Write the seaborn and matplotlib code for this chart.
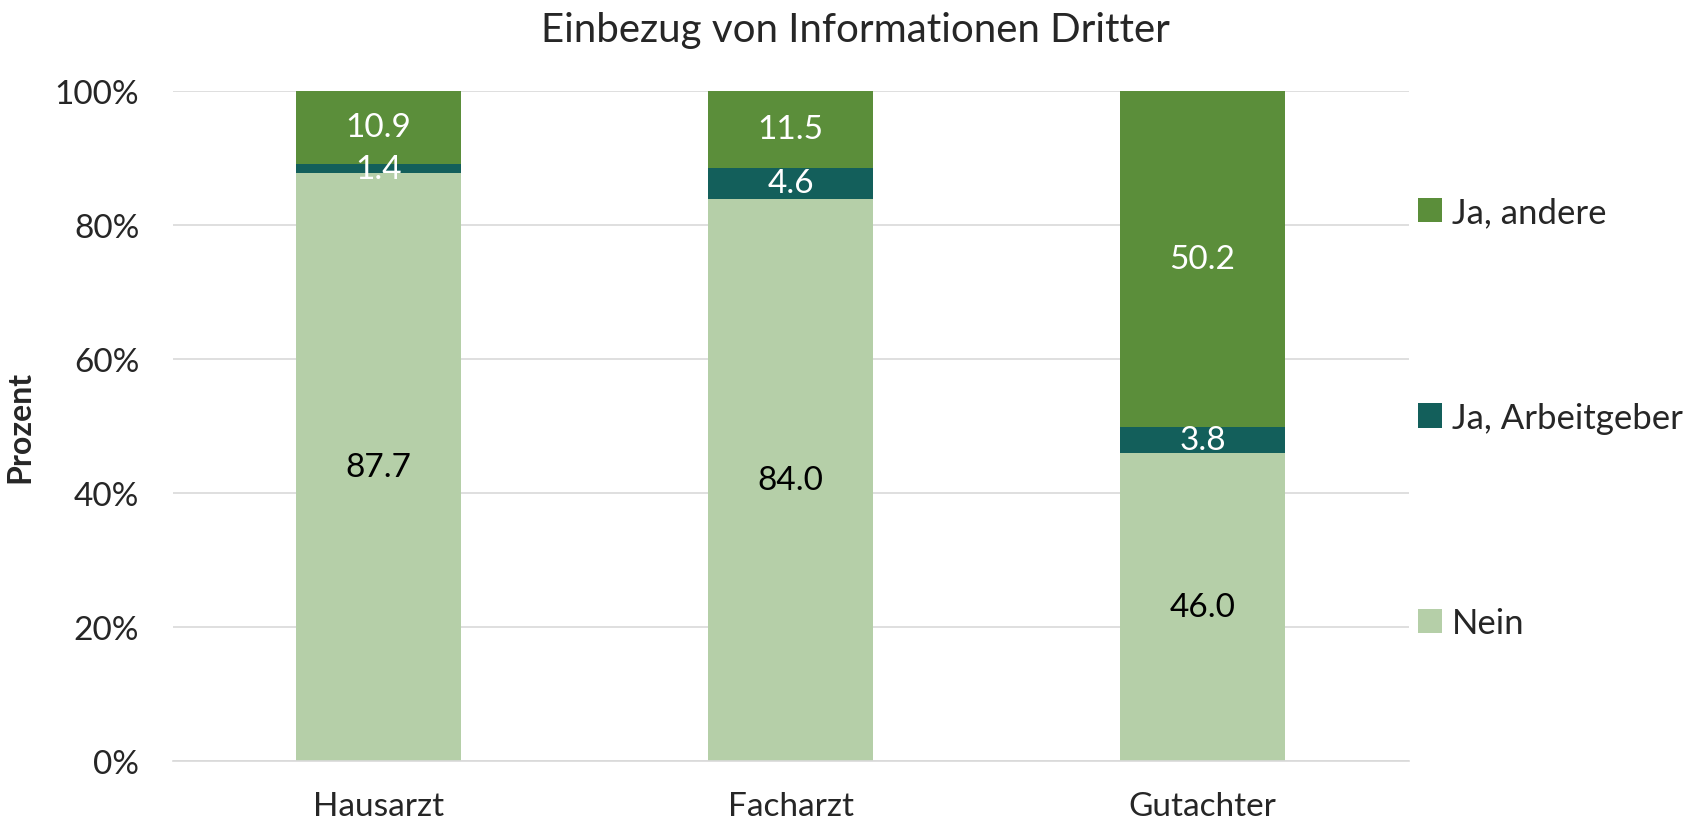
import numpy as np
import pandas as pd
import seaborn as sns
import matplotlib.pyplot as plt

categories = ["Hausarzt", "Facharzt", "Gutachter"]
nein = [87.7, 84.0, 46.0]
ja_arbeitgeber = [1.4, 4.6, 3.8]
ja_andere = [10.9, 11.5, 50.2]

series_names = ["Nein", "Ja, Arbeitgeber", "Ja, andere"]
colors = {"Nein": "#b5cfa8", "Ja, Arbeitgeber": "#135f5b", "Ja, andere": "#5b8e3a"}
label_colors = {"Nein": "black", "Ja, Arbeitgeber": "white", "Ja, andere": "white"}

sns.set_theme(style="white")
plt.rcParams["font.family"] = ["Lato", "DejaVu Sans"]

df = pd.DataFrame({"cat": categories, "Nein": nein,
                   "Ja, Arbeitgeber": ja_arbeitgeber, "Ja, andere": ja_andere})
vals = df[series_names].to_numpy()
# normalise to 100 % stacked
pct = vals / vals.sum(axis=1, keepdims=True) * 100
cum = np.cumsum(pct, axis=1)

fig = plt.figure(figsize=(16.93, 8.28), dpi=100)
ax = fig.add_axes([0.102, 0.080, 0.730, 0.809])

# draw cumulative totals from top layer down so lower layers overlap
for i in reversed(range(len(series_names))):
    sns.barplot(x=categories, y=cum[:, i], color=colors[series_names[i]],
                width=0.4, ax=ax, saturation=1, linewidth=0, zorder=2,
                label=series_names[i])

# segment value labels
for j in range(len(categories)):
    for i, name in enumerate(series_names):
        mid = cum[j, i] - pct[j, i] / 2
        ax.text(j, mid, f"{vals[j, i]:.1f}", ha="center", va="center",
                fontsize=24, color=label_colors[name], zorder=3)

ax.set_ylim(0, 100)
ax.set_xlim(-0.5, 2.5)
ax.set_yticks(np.arange(0, 101, 20))
ax.set_yticklabels([f"{t}%" for t in range(0, 101, 20)])
ax.yaxis.grid(True, color="#d9d9d9", linewidth=1.2, zorder=0)
ax.set_axisbelow(True)
for s in ["top", "right", "left"]:
    ax.spines[s].set_visible(False)
ax.spines["bottom"].set_color("#d9d9d9")
ax.spines["bottom"].set_linewidth(1.2)
ax.tick_params(axis="both", length=0, labelsize=24)
ax.tick_params(axis="y", pad=24)
ax.tick_params(axis="x", pad=22)
ax.set_ylabel("Prozent", fontsize=23, fontweight="bold", labelpad=15)
ax.set_xlabel("")
fig.text(0.505, 0.963, "Einbezug von Informationen Dritter", fontsize=29,
         ha="center", va="center")

handles, labels = ax.get_legend_handles_labels()
ax.legend(handles, labels, loc="center left", bbox_to_anchor=(0.982, 0.512),
          frameon=False, fontsize=25, handlelength=0.7, handleheight=0.7,
          handletextpad=0.3, labelspacing=5.0)

fig.savefig("out.png", dpi=100)
